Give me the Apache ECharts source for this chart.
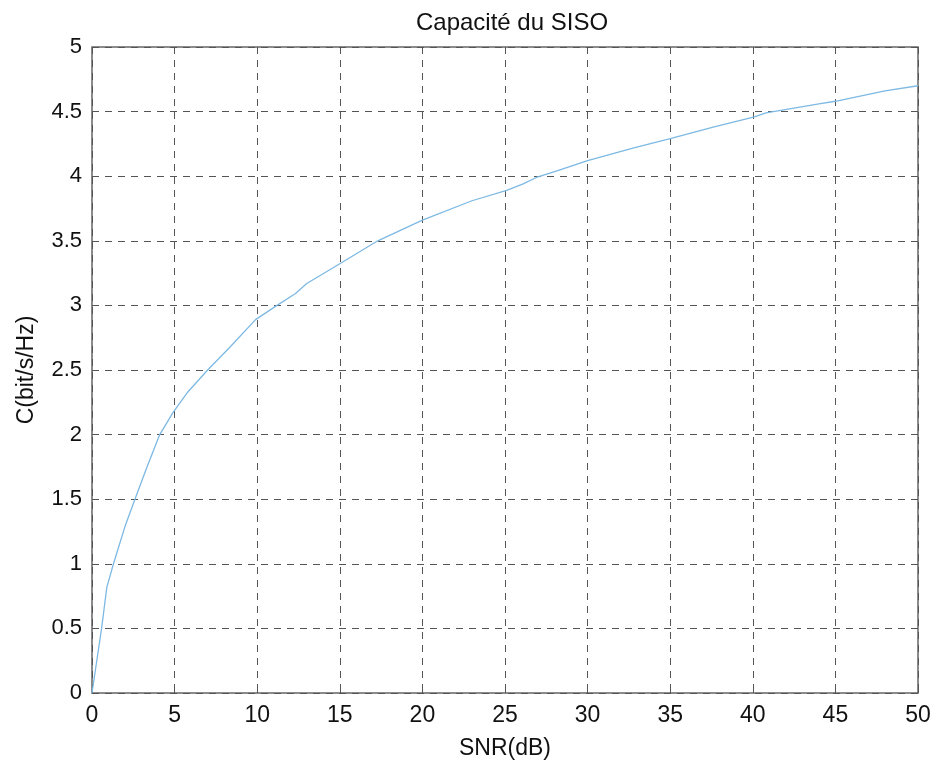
<!DOCTYPE html>
<html lang="fr" style="height: 100%">
<head>
    <meta charset="UTF-8">
    <title>Capacité du SISO</title>
    <script src="https://cdn.jsdelivr.net/npm/echarts@6/dist/echarts.min.js"></script>
</head>
<body style="height: 100%; margin: 0; background: #fff">
    <div id="main" style="width: 930px; height: 764px"></div>
    <script>
        // valeurs
        var snrDb = [0, 0.58, 0.9, 1.3, 2.0, 2.6, 3.3, 4.1, 4.9, 5.8, 7.0, 8.3, 9.9, 11.2, 12.3, 13.0,
            15.1, 17.3, 20.0, 23.0, 25.1, 26.1, 26.9, 28.1, 30.0, 32.8, 35.0, 37.6, 40.1, 40.8,
            44.0, 45.0, 48.0, 50.0];
        var capacity = [0, 0.5, 0.82, 1.0, 1.29, 1.5, 1.74, 2.0, 2.17, 2.33, 2.5, 2.67, 2.89, 3.0, 3.09, 3.17,
            3.33, 3.5, 3.66, 3.81, 3.89, 3.94, 3.99, 4.04, 4.12, 4.22, 4.29, 4.38, 4.46, 4.49,
            4.56, 4.58, 4.66, 4.70];
        var xTicks = [0, 50, 5];   // min, max, pas
        var yTicks = [0, 5, 0.5];

        var points = snrDb.map(function (x, i) { return [x, capacity[i]]; });

        var font = 'Liberation Sans, Arial, sans-serif';
        var gridLine = { show: true, lineStyle: { color: '#555', type: [7, 6], width: 1 } };

        var chart = echarts.init(document.getElementById('main'));
        chart.setOption({
            animation: false,
            backgroundColor: '#fff',
            title: {
                text: 'Capacité du SISO',
                left: 507,
                textAlign: 'center',
                top: 6,
                textStyle: { fontFamily: font, fontSize: 24, fontWeight: 'normal', color: '#111' }
            },
            grid: {
                left: 92, right: 12, top: 47, bottom: 71,
                outerBoundsMode: 'none',
                containLabel: false,
                show: true, borderColor: '#666', borderWidth: 1.5
            },
            xAxis: {
                type: 'value',
                min: xTicks[0], max: xTicks[1], interval: xTicks[2],
                name: 'SNR(dB)',
                nameLocation: 'middle',
                nameGap: 44,
                nameTextStyle: { fontFamily: font, fontSize: 23, color: '#111' },
                axisLine: { show: false },
                axisTick: { show: true, inside: true, length: 6, lineStyle: { color: '#555' } },
                axisLabel: { fontFamily: font, fontSize: 23, color: '#111', margin: 11 },
                splitLine: gridLine
            },
            yAxis: {
                type: 'value',
                min: yTicks[0], max: yTicks[1], interval: yTicks[2],
                name: 'C(bit/s/Hz)',
                nameLocation: 'middle',
                nameGap: 54,
                nameTextStyle: { fontFamily: font, fontSize: 23, color: '#111' },
                axisLine: { show: false },
                axisTick: { show: true, inside: true, length: 6, lineStyle: { color: '#555' } },
                axisLabel: { fontFamily: font, fontSize: 22, color: '#111', margin: 10 },
                splitLine: gridLine
            },
            series: [{
                type: 'line',
                data: points,
                showSymbol: false,
                smooth: false,
                lineStyle: { color: '#7db9e3', width: 1.3 },
                z: 5
            }]
        });
    </script>
</body>
</html>
